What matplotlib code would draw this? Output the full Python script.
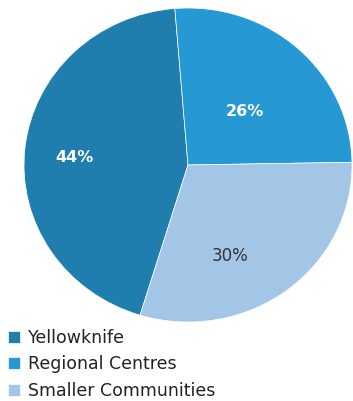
import matplotlib.pyplot as plt

labels = ['Yellowknife', 'Regional Centres', 'Smaller Communities']
shares = [44, 26, 30]
colors = ['#1F7EAE', '#2698D4', '#A3C5E6']
text_colors = ['white', 'white', '#333333']
bold = [True, True, False]
# where each percentage sits, in pie radius units
label_xy = [(-0.69, 0.045), (0.345, 0.34), (0.256, -0.58)]

W, H = 353, 401
fig = plt.figure(figsize=(W / 100, H / 100), dpi=100)

# pie is slightly wider than tall, so the axes box sets the ellipse
cx, cy, rx, ry = 188, 165, 164, 157
ax = fig.add_axes([(cx - rx) / W, (H - cy - ry) / H, 2 * rx / W, 2 * ry / H])

wedges, texts, autotexts = ax.pie(
    shares, colors=colors, startangle=-107, counterclock=False,
    autopct='%d%%',
    wedgeprops=dict(edgecolor='white', linewidth=0.5),
    textprops=dict(fontsize=12))
ax.set_aspect('auto')
ax.set_xlim(-1, 1)
ax.set_ylim(-1, 1)
for w in wedges:
    w.set_clip_on(False)

for t, c, b, xy in zip(autotexts, text_colors, bold, label_xy):
    t.set_color(c)
    t.set_position(xy)
    if b:
        t.set_fontweight('bold')
        t.set_fontsize(11.5)

fig.legend(wedges, labels, loc='upper left',
           bbox_to_anchor=(-1 / W, 1 - 320 / H), frameon=False,
           fontsize=12.5, handlelength=0.7, handleheight=0.7,
           handletextpad=0.45, labelspacing=0.5, borderpad=0,
           labelcolor='#222222')

fig.savefig('out.png', dpi=100)
